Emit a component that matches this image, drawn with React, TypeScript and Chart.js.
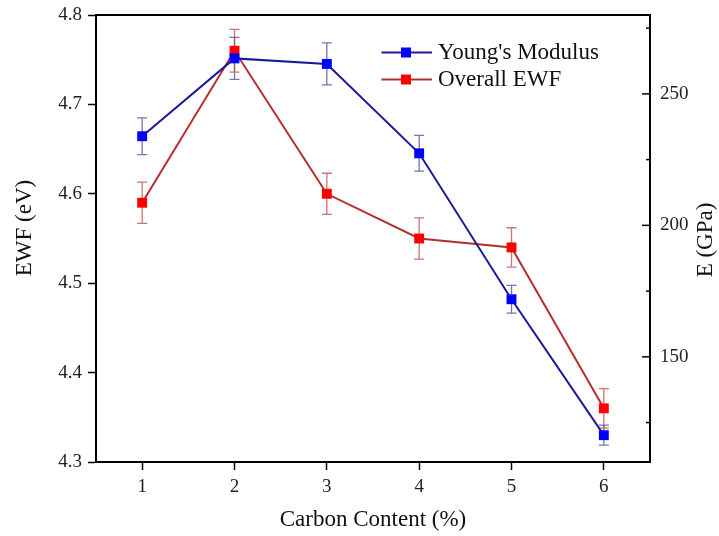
import React, { useEffect, useRef } from "react";
import { Chart, registerables } from "chart.js";

Chart.register(...registerables);

// ---- data ----
const CARBON = [1, 2, 3, 4, 5, 6];
const X_TICKS = [1, 2, 3, 4, 5, 6];
const X_RANGE = [0.5, 6.5];
const EWF_TICKS = [4.3, 4.4, 4.5, 4.6, 4.7, 4.8];
const EWF_RANGE = [4.3, 4.8];
const E_TICKS = [125, 150, 175, 200, 225, 250, 275];
const E_LABELED = [150, 200, 250];
const E_RANGE = [110, 280];
const YOUNGS = [233.9, 263.5, 261.4, 227.4, 171.9, 120.2];
const YOUNGS_ERR = [7.0, 8.0, 8.0, 6.8, 5.3, 3.8];
const EWF = [4.59, 4.76, 4.6, 4.55, 4.54, 4.36];
const EWF_ERR = [0.023, 0.024, 0.023, 0.023, 0.022, 0.022];
const SERIES_NAMES = ["Young's Modulus", "Overall EWF"];
const X_TITLE = "Carbon Content (%)";
const Y_TITLE = "EWF (eV)";
const Y1_TITLE = "E (GPa)";

const FONT = "'Liberation Serif', 'Times New Roman', serif";
const BLUE_LINE = "#1a1a96";
const BLUE_MARK = "#0000ff";
const BLUE_ERR = "rgba(70,70,150,0.75)";
const RED_LINE = "#b52e2e";
const RED_MARK = "#ff0000";
const RED_ERR = "rgba(185,70,70,0.75)";

function makeIcon(line: string, marker: string) {
  const c = document.createElement("canvas");
  c.width = 52;
  c.height = 12;
  const g = c.getContext("2d")!;
  g.strokeStyle = line;
  g.lineWidth = 2;
  g.beginPath();
  g.moveTo(0, 6);
  g.lineTo(52, 6);
  g.stroke();
  g.fillStyle = marker;
  g.fillRect(21, 1, 10, 10);
  return c;
}

export default function App() {
  const ref = useRef<HTMLCanvasElement>(null);

  useEffect(() => {
    const canvas = ref.current!;
    const icons = [makeIcon(BLUE_LINE, BLUE_MARK), makeIcon(RED_LINE, RED_MARK)];
    const errors = [YOUNGS_ERR, EWF_ERR];
    const errColors = [BLUE_ERR, RED_ERR];

    const errorBars = {
      id: "errorBars",
      beforeDatasetsDraw(chart: any) {
        const ctx = chart.ctx;
        chart.data.datasets.forEach((ds: any, di: number) => {
          const meta = chart.getDatasetMeta(di);
          const ys = chart.scales[meta.yAxisID];
          ctx.save();
          ctx.strokeStyle = errColors[di];
          ctx.lineWidth = 1.3;
          meta.data.forEach((pt: any, i: number) => {
            const v = ds.data[i].y;
            const e = errors[di][i];
            const x = pt.x;
            const yT = ys.getPixelForValue(v + e);
            const yB = ys.getPixelForValue(v - e);
            ctx.beginPath();
            ctx.moveTo(x, yT);
            ctx.lineTo(x, yB);
            ctx.moveTo(x - 5, yT);
            ctx.lineTo(x + 5, yT);
            ctx.moveTo(x - 5, yB);
            ctx.lineTo(x + 5, yB);
            ctx.stroke();
          });
          ctx.restore();
        });
      },
    };

    const frame = {
      id: "frame",
      afterLayout(chart: any) {
        const lg = chart.legend;
        if (lg) {
          lg.left = 381.5;
          lg.top = 37;
          lg.right = lg.left + lg.width;
          lg.bottom = lg.top + 200;
        }
      },
      afterDraw(chart: any) {
        const ctx = chart.ctx;
        const a = chart.chartArea;
        ctx.save();
        ctx.strokeStyle = "#000";
        ctx.lineWidth = 2;
        ctx.beginPath();
        ctx.moveTo(a.left - 1, a.top);
        ctx.lineTo(a.right + 1, a.top);
        ctx.stroke();
        // right axis ticks (inward, minor shorter)
        const s = chart.scales.y1;
        ctx.lineWidth = 1.5;
        E_TICKS.forEach((v) => {
          const y = s.getPixelForValue(v);
          const len = E_LABELED.includes(v) ? 8 : 4;
          ctx.beginPath();
          ctx.moveTo(s.left, y);
          ctx.lineTo(s.left - len, y);
          ctx.stroke();
        });
        // rotated axis titles
        ctx.fillStyle = "#111";
        ctx.font = `23px ${FONT}`;
        ctx.textAlign = "center";
        ctx.textBaseline = "middle";
        ctx.save();
        ctx.translate(25, 228);
        ctx.rotate(-Math.PI / 2);
        ctx.fillText(Y_TITLE, 0, 0);
        ctx.restore();
        ctx.save();
        ctx.translate(706, 240);
        ctx.rotate(-Math.PI / 2);
        ctx.fillText(Y1_TITLE, 0, 0);
        ctx.restore();
        ctx.restore();
      },
    };

    const xTickFont = { family: FONT, size: 19 };
    const yTickFont = { family: FONT, size: 19, lineHeight: 0.8 };
    const axisGrid = {
      display: true,
      drawOnChartArea: false,
      drawTicks: true,
      tickLength: 8,
      tickWidth: 1.5,
      tickColor: "#000",
    };
    const border = { display: true, color: "#000", width: 2 };

    const chart = new Chart(canvas, {
      type: "line",
      data: {
        datasets: [
          {
            label: SERIES_NAMES[0],
            data: CARBON.map((c, i) => ({ x: c, y: YOUNGS[i] })),
            yAxisID: "y1",
            borderColor: BLUE_LINE,
            backgroundColor: BLUE_MARK,
            borderWidth: 2,
            pointStyle: "rect",
            pointRadius: 7,
            pointBorderWidth: 0,
            pointBackgroundColor: BLUE_MARK,
          },
          {
            label: SERIES_NAMES[1],
            data: CARBON.map((c, i) => ({ x: c, y: EWF[i] })),
            yAxisID: "y",
            borderColor: RED_LINE,
            backgroundColor: RED_MARK,
            borderWidth: 2,
            pointStyle: "rect",
            pointRadius: 7,
            pointBorderWidth: 0,
            pointBackgroundColor: RED_MARK,
          },
        ],
      },
      options: {
        animation: false,
        responsive: false,
        events: [],
        layout: { padding: { top: 15, left: 0, right: 0, bottom: 0 } },
        plugins: {
          tooltip: { enabled: false },
          legend: {
            display: true,
            position: "chartArea" as any,
            align: "start",
            labels: {
              usePointStyle: true,
              pointStyleWidth: 41,
              padding: 4,
              color: "#111",
              font: { family: FONT, size: 23, lineHeight: 1 },
              generateLabels: (ch: any) =>
                Chart.defaults.plugins.legend.labels
                  .generateLabels(ch)
                  .map((l: any, i: number) => ({ ...l, pointStyle: icons[i] })),
            },
          },
        },
        scales: {
          x: {
            type: "linear",
            min: X_RANGE[0],
            max: X_RANGE[1],
            afterBuildTicks: (s: any) => {
              s.ticks = X_TICKS.map((v) => ({ value: v }));
            },
            afterFit: (s: any) => {
              s.height = 74;
            },
            ticks: {
              font: xTickFont,
              color: "#222",
              padding: 6,
              callback: (v: any) => String(v),
            },
            grid: axisGrid,
            border,
            title: {
              display: true,
              text: X_TITLE,
              color: "#111",
              font: { family: FONT, size: 23 },
              padding: { top: 0, bottom: 2 },
            },
          },
          y: {
            type: "linear",
            position: "left",
            min: EWF_RANGE[0],
            max: EWF_RANGE[1],
            afterBuildTicks: (s: any) => {
              s.ticks = EWF_TICKS.map((v) => ({ value: v }));
            },
            afterFit: (s: any) => {
              s.width = 96;
            },
            ticks: {
              font: yTickFont,
              color: "#222",
              padding: 6,
              callback: (v: any) => Number(v).toFixed(1),
            },
            grid: axisGrid,
            border,
          },
          y1: {
            type: "linear",
            position: "right",
            min: E_RANGE[0],
            max: E_RANGE[1],
            afterBuildTicks: (s: any) => {
              s.ticks = E_TICKS.map((v) => ({ value: v }));
            },
            afterFit: (s: any) => {
              s.width = 69;
            },
            ticks: {
              font: yTickFont,
              color: "#222",
              padding: 3,
              callback: (v: any) => (E_LABELED.includes(Number(v)) ? String(v) : ""),
            },
            grid: { ...axisGrid, tickLength: 7, tickColor: "rgba(0,0,0,0)" },
            border,
          },
        },
      },
      plugins: [errorBars, frame],
    } as any);

    return () => chart.destroy();
  }, []);

  return (
    <div style={{ position: "absolute", left: 0, top: 0, width: 719, height: 536, background: "#fff" }}>
      <canvas ref={ref} width={719} height={536} style={{ display: "block" }} />
    </div>
  );
}
